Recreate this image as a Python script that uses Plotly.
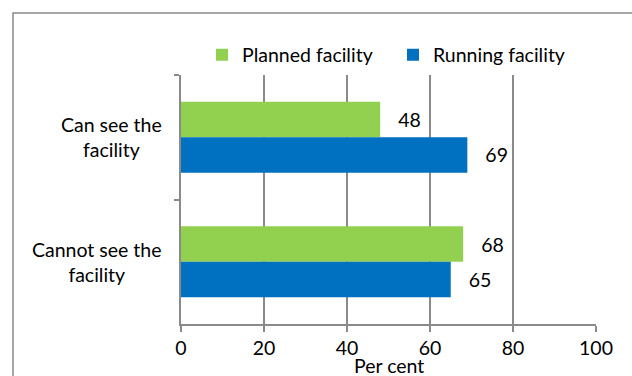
import plotly.graph_objects as go

categories = ["Can see the<br>facility", "Cannot see the<br>facility"]
planned = [48, 68]
running = [69, 65]
series_names = ["Planned facility", "Running facility"]
x_ticks = [0, 20, 40, 60, 80, 100]

W, H = 632, 376
ML, MR, MT, MB = 181, 36, 75, 52
PW, PH = W - ML - MR, H - MT - MB

FONT = "Lato, 'Open Sans', sans-serif"
FS = 19.5
GREEN = "#92D050"
BLUE = "#0070C0"
GRID = "#8a8a8a"

def px_x(p):
    return (p - ML) / PW

def px_y(p):
    return (H - MB - p) / PH

fig = go.Figure()
for name, vals, col, leg in [(series_names[0], planned, GREEN, "legend"),
                             (series_names[1], running, BLUE, "legend2")]:
    fig.add_trace(go.Bar(
        y=categories, x=vals, name=name, orientation="h", legend=leg,
        marker=dict(color=col, line=dict(width=0)),
        text=vals, texttemplate="   %{x}", textposition="outside",
        textfont=dict(family=FONT, size=FS, color="#000"),
        cliponaxis=False,
    ))

annotations = []
for c in categories:
    annotations.append(dict(
        x=px_x(164), xref="paper", y=c, yref="y", text=c, showarrow=False,
        xanchor="right", yanchor="middle", align="center",
        font=dict(family=FONT, size=FS, color="#000"),
    ))
annotations.append(dict(
    x=0.5, xref="paper", y=px_y(365), yref="paper", text="Per cent",
    showarrow=False, xanchor="center", yanchor="middle",
    font=dict(family=FONT, size=FS, color="#000"),
))

leg_common = dict(yanchor="middle", xanchor="left", y=px_y(55),
                  font=dict(family=FONT, size=FS, color="#000"),
                  itemwidth=30, bgcolor="rgba(0,0,0,0)")

fig.update_layout(
    width=W, height=H,
    margin=dict(l=ML, r=MR, t=MT, b=MB),
    paper_bgcolor="white", plot_bgcolor="white",
    barmode="group", bargap=0.43, bargroupgap=0,
    showlegend=True,
    legend=dict(x=px_x(202), **leg_common),
    legend2=dict(x=px_x(393), **leg_common),
    xaxis=dict(range=[0, 100], tickvals=x_ticks, showgrid=True, gridcolor=GRID, gridwidth=1.5,
               showline=True, linecolor=GRID, linewidth=1.5, ticks="outside", ticklen=6,
               tickcolor=GRID, tickwidth=1.5, zeroline=False,
               tickfont=dict(family=FONT, size=FS, color="#000"), fixedrange=True),
    yaxis=dict(autorange="reversed", showticklabels=False, showline=True, linecolor=GRID,
               linewidth=1.5, ticks="outside", ticklen=5, tickcolor=GRID, tickwidth=1.5,
               tickson="boundaries", showgrid=False, fixedrange=True),
    annotations=annotations,
    shapes=[dict(type="rect", xref="paper", yref="paper",
                 x0=px_x(13), x1=px_x(700), y0=px_y(500), y1=px_y(13),
                 line=dict(color=GRID, width=1.5), layer="below")],
)

fig.write_html("out.html")
